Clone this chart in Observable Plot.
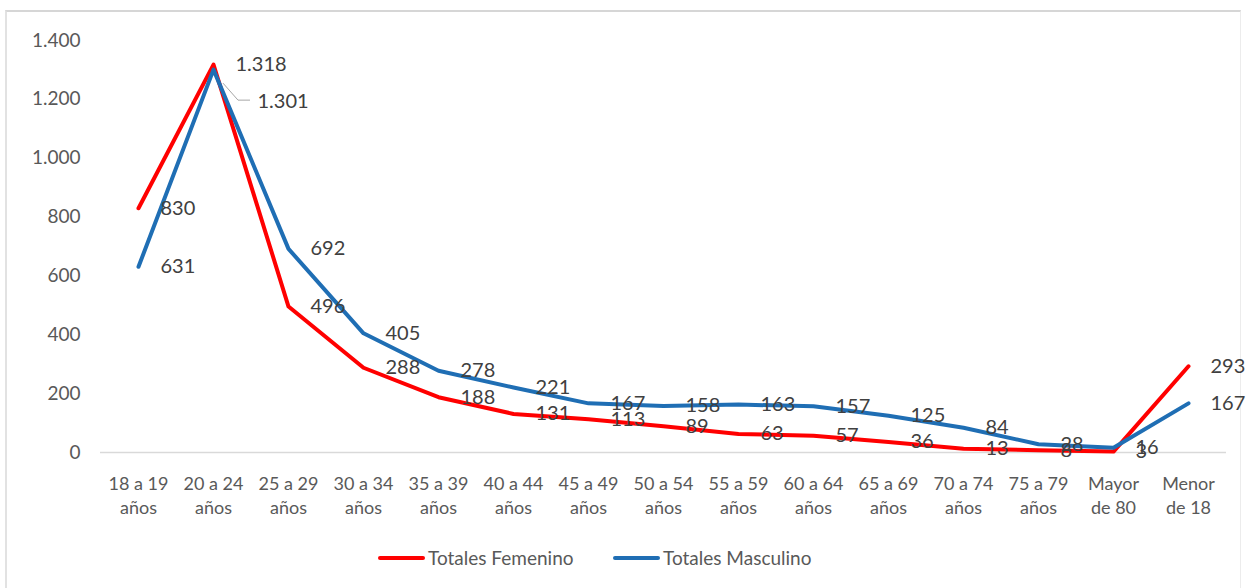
<!DOCTYPE html>
<html>
<head>
<meta charset="utf-8">
<script src="https://cdn.jsdelivr.net/npm/d3@7"></script>
<script src="https://cdn.jsdelivr.net/npm/@observablehq/plot@0.6"></script>
<style>
  body { margin: 0; background: #fff; width: 1248px; height: 588px; overflow: hidden; position: relative; font-family: Lato, "Noto Sans", sans-serif; }
  #frame { position: absolute; left: 5px; top: 10px; width: 1233px; height: 620px; border-top: 2px solid #d6d6d6; border-left: 2px solid #e2e2e2; border-right: 1px solid #ececec; }
  #chart { position: absolute; left: 0; top: 0; }
  .item { position: absolute; top: 546px; display: flex; align-items: center; font-size: 19px; color: #595959; }
  .swatch { width: 47px; height: 4px; border-radius: 2px; margin-right: 3px; }
</style>
</head>
<body>
<div id="frame"></div>
<div id="chart"></div>
<div class="item" style="left:378px"><span class="swatch" style="background:#ff0000"></span>Totales Femenino</div>
<div class="item" style="left:613px"><span class="swatch" style="background:#1f6eb4"></span>Totales Masculino</div>
<script>
// Age groups and totals per sex
const ageGroups = ["18 a 19 años", "20 a 24 años", "25 a 29 años", "30 a 34 años", "35 a 39 años",
  "40 a 44 años", "45 a 49 años", "50 a 54 años", "55 a 59 años", "60 a 64 años", "65 a 69 años",
  "70 a 74 años", "75 a 79 años", "Mayor de 80", "Menor de 18"];
const tickLabels = ["18 a 19\naños", "20 a 24\naños", "25 a 29\naños", "30 a 34\naños", "35 a 39\naños",
  "40 a 44\naños", "45 a 49\naños", "50 a 54\naños", "55 a 59\naños", "60 a 64\naños", "65 a 69\naños",
  "70 a 74\naños", "75 a 79\naños", "Mayor\nde 80", "Menor\nde 18"];
const femenino = [830, 1318, 496, 288, 188, 131, 113, 89, 63, 57, 36, 13, 8, 3, 293];
const masculino = [631, 1301, 692, 405, 278, 221, 167, 158, 163, 157, 125, 84, 28, 16, 167];
const yTicks = [0, 200, 400, 600, 800, 1000, 1200, 1400];
const seriesNames = ["Totales Femenino", "Totales Masculino"];
const seriesColors = ["#ff0000", "#1f6eb4"];

const fmt = d3.formatLocale({decimal: ",", thousands: ".", grouping: [3], currency: ["$", ""]}).format(",d");
const tickText = new Map(ageGroups.map((g, i) => [g, tickLabels[i]]));

const rows = ageGroups.flatMap((g, i) => [
  {grupo: g, serie: seriesNames[0], valor: femenino[i]},
  {grupo: g, serie: seriesNames[1], valor: masculino[i]}
]);
// The male label at the peak is moved aside with a leader line
const isMoved = d => d.serie === seriesNames[1] && d.grupo === "20 a 24 años";

function leaderLine(index, scales) {
  const d = rows.find(isMoved);
  const x = scales.x(d.grupo), y = scales.y(d.valor);
  const path = d3.create("svg:path")
    .attr("d", `M${x + 10},${y + 14}L${x + 25},${y + 31}L${x + 37},${y + 31}`)
    .attr("fill", "none").attr("stroke", "#a6a6a6").attr("stroke-width", 1);
  return path.node();
}

const chart = Plot.plot({
  width: 1248,
  height: 520,
  marginLeft: 100,
  marginRight: 22,
  marginTop: 40,
  marginBottom: 68,
  style: {fontFamily: "Lato, 'Noto Sans', sans-serif", background: "transparent", overflow: "visible"},
  x: {type: "point", domain: ageGroups, padding: 0.5, label: null},
  y: {domain: [0, 1400], label: null},
  color: {domain: seriesNames, range: seriesColors},
  marks: [
    Plot.ruleY([0], {stroke: "#d9d9d9", strokeWidth: 1.5}),
    Plot.axisY({ticks: yTicks, tickSize: 0, tickPadding: 20, tickFormat: fmt, fontSize: 19, fill: "#595959", label: null}),
    Plot.axisX({tickSize: 0, tickPadding: 20, tickFormat: d => tickText.get(d), fontSize: 18, fill: "#595959", lineHeight: 1.35, label: null}),
    Plot.line(rows, {x: "grupo", y: "valor", z: "serie", stroke: "serie", strokeWidth: 4, strokeLinejoin: "round", strokeLinecap: "round"}),
    leaderLine,
    Plot.text(rows.filter(d => !isMoved(d)), {x: "grupo", y: "valor", text: d => fmt(d.valor), dx: 22, textAnchor: "start", fill: "#404040", fontSize: 20}),
    Plot.text(rows.filter(isMoved), {x: "grupo", y: "valor", text: d => fmt(d.valor), dx: 44, dy: 32, textAnchor: "start", fill: "#404040", fontSize: 20})
  ]
});
document.getElementById("chart").append(chart);
</script>
</body>
</html>
